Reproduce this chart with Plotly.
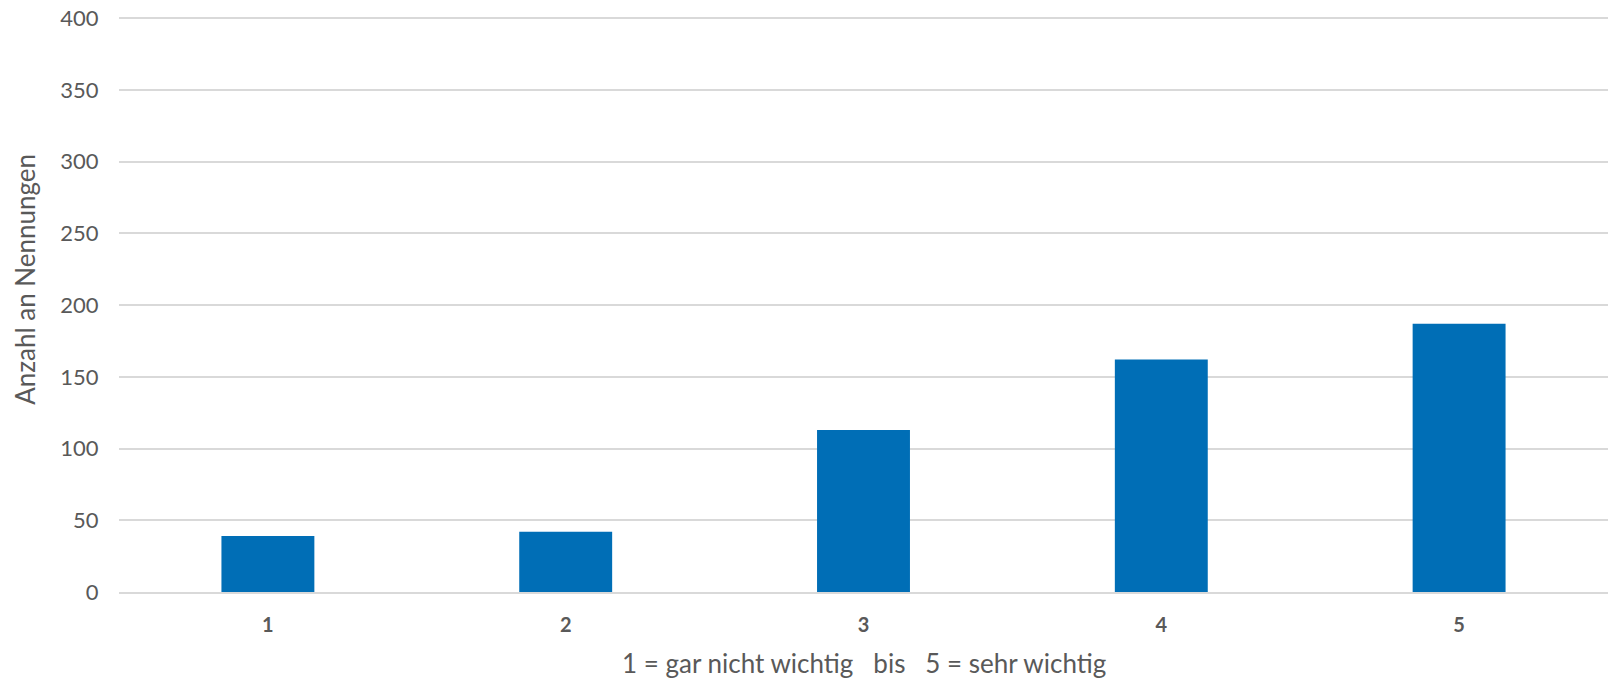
import plotly.graph_objects as go

categories = ["1", "2", "3", "4", "5"]
values = [39, 42, 113, 162, 187]
y_ticks = [0, 50, 100, 150, 200, 250, 300, 350, 400]

FONT = "Lato, Open Sans, sans-serif"
GREY = "#595959"

fig = go.Figure(go.Bar(x=categories, y=values, marker=dict(color="#006EB6", line=dict(width=0)), width=0.312))

fig.update_layout(
    width=1608, height=678,
    margin=dict(l=119, r=0, t=16, b=86),
    paper_bgcolor="white", plot_bgcolor="white",
    showlegend=False,
    font=dict(family=FONT, color=GREY, size=18),
    xaxis=dict(
        type="category",
        automargin=False,
        showgrid=False,
        showline=True, linecolor="#d9d9d9", linewidth=1.5,
        ticks="outside", ticklen=14, tickcolor="rgba(0,0,0,0)",
        tickfont=dict(family=FONT, size=20, color=GREY, weight="bold"),
    ),
    yaxis=dict(
        range=[0, 401.5],
        automargin=False,
        tickvals=y_ticks,
        showgrid=True, gridcolor="#d9d9d9", gridwidth=1.5,
        zeroline=False,
        ticks="outside", ticklen=15, tickcolor="rgba(0,0,0,0)",
        ticklabeloverflow="allow",
        tickfont=dict(family=FONT, size=22, color=GREY),
    ),
    annotations=[
        dict(text="Anzahl an Nennungen", textangle=-90, showarrow=False,
             xref="paper", yref="paper", x=0, y=0.542, xanchor="center", yanchor="middle",
             xshift=-94, borderpad=0, font=dict(family=FONT, size=26, color=GREY)),
        dict(text="1 = gar nicht wichtig   bis   5 = sehr wichtig", showarrow=False,
             xref="paper", yref="paper", x=0.5, y=0, xanchor="center", yanchor="middle",
             yshift=-71, borderpad=0, font=dict(family=FONT, size=26, color=GREY)),
    ],
)

fig.write_html(
    "out.html",
    config={"displayModeBar": False},
    post_script="document.body.style.margin='0';document.body.style.overflow='hidden';",
)
